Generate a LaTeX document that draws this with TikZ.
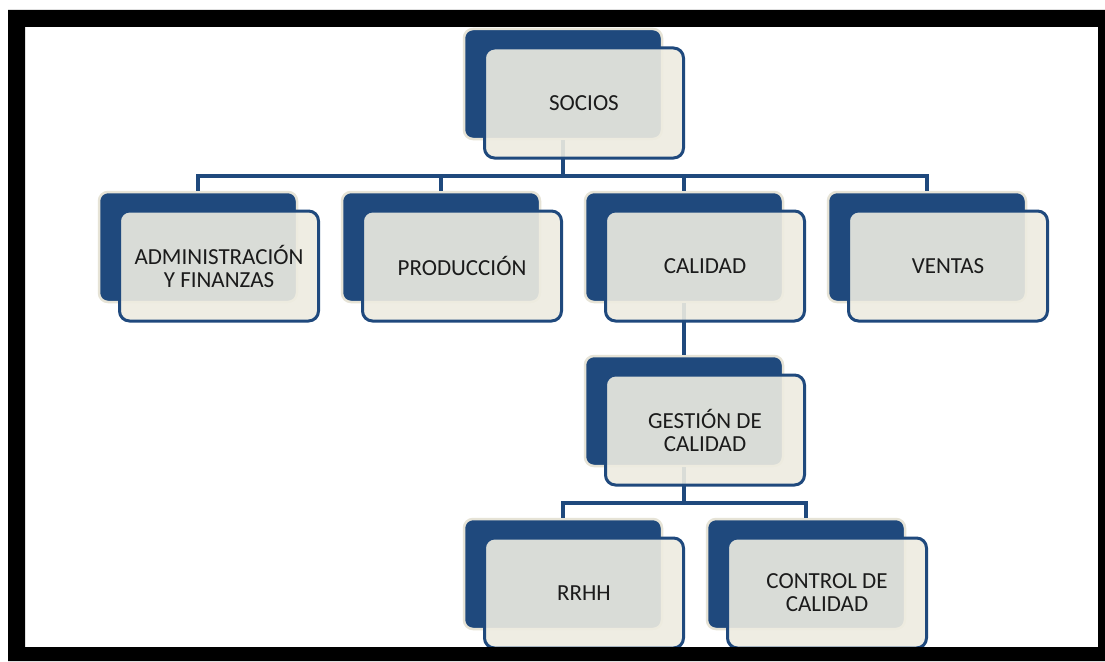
\documentclass[tikz,border=0pt]{standalone}
\usepackage{fontspec}
\setmainfont{Carlito}
\usetikzlibrary{positioning}

\definecolor{navy}{HTML}{1F497D}
\definecolor{rim}{HTML}{E6E3D6}
\definecolor{tan}{HTML}{EEECE1}
\definecolor{ink}{HTML}{1B1B1B}

\begin{document}
\begin{tikzpicture}[x=1pt,y=-1pt,
    back/.style={draw=rim,line width=2.5pt,fill=navy,rounded corners=9pt,
        minimum width=198pt,minimum height=110pt,inner sep=0pt},
    front/.style={draw=navy,line width=3pt,fill=tan,fill opacity=0.9,text opacity=1,
        rounded corners=10pt,minimum width=199pt,minimum height=110pt,inner sep=0pt,
        align=center,text=ink,font=\fontsize{23}{23}\selectfont},
    link/.style={draw=navy,line width=3.5pt}]
    \useasboundingbox (0,0) rectangle (1105,661);
    \fill[white] (0,0) rectangle (1105,661);

    % Back boxes
    \node[back] (sociosB) at (563,84) {};
    \node[back] (adminB) at (198,247) {};
    \node[back] (prodB) at (441,247) {};
    \node[back] (calidadB) at (684,247) {};
    \node[back] (ventasB) at (927,247) {};
    \node[back] (gestionB) at (684,411) {};
    \node[back] (rrhhB) at (563,574) {};
    \node[back] (controlB) at (806,574) {};

    % Connectors
    \coordinate (bus1) at (563,176);
    \draw[link] (sociosB.south) -- (bus1);
    \draw[link] (adminB.north) |- (bus1) -| (ventasB.north);
    \draw[link] (prodB.north) -- (prodB.north |- bus1);
    \draw[link] (calidadB.north) -- (calidadB.north |- bus1);
    \draw[link] (calidadB.south) -- (gestionB.north);
    \coordinate (bus2) at (684,503);
    \draw[link] (gestionB.south) -- (bus2);
    \draw[link] (rrhhB.north) |- (bus2) -| (controlB.north);

    % Front boxes
    \node[front] (socios) at ([shift={(21,19)}]sociosB) {SOCIOS};
    \node[front] (admin) at ([shift={(21,19)}]adminB) {ADMINISTRACIÓN\\Y FINANZAS};
    \node[front] (prod) at ([shift={(21,19)}]prodB) {PRODUCCIÓN};
    \node[front] (calidad) at ([shift={(21,19)}]calidadB) {CALIDAD};
    \node[front] (ventas) at ([shift={(21,19)}]ventasB) {VENTAS};
    \node[front] (gestion) at ([shift={(21,19)}]gestionB) {GESTIÓN DE\\CALIDAD};
    \node[front] (rrhh) at ([shift={(21,19)}]rrhhB) {RRHH};
    \node[front] (control) at ([shift={(21,19)}]controlB) {CONTROL DE\\CALIDAD};

    % Frame
    \fill[black,even odd rule] (8,10) rectangle (1105,661) (25,27) rectangle (1098,647);
\end{tikzpicture}
\end{document}
